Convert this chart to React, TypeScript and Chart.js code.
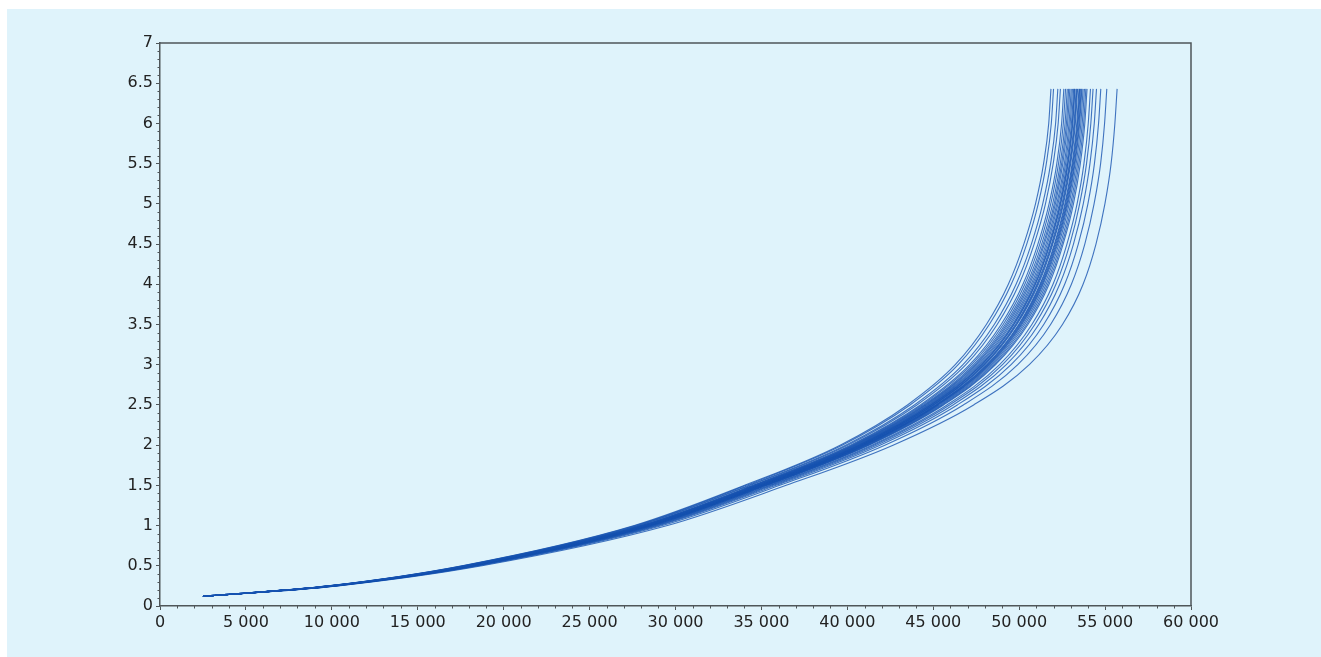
import React, { useEffect, useRef } from "react";
import { Chart, registerables } from "chart.js";

Chart.register(...registerables);

// y levels shared by every curve (value on the vertical axis)
const V_LEVELS = [0.12, 0.25, 0.5, 1, 1.5, 2, 2.5, 3, 3.5, 4, 4.5, 5, 5.5, 6, 6.43];

// x position of each curve at each y level
const curve01 = [2500, 9790, 17580, 27600, 34020, 39580, 43500, 46280, 48090, 49370, 50270, 50950, 51420, 51720, 51850];
const curve02 = [2500, 9810, 17630, 27680, 34110, 39700, 43650, 46450, 48260, 49540, 50440, 51110, 51580, 51870, 52000];
const curve03 = [2500, 9850, 17700, 27800, 34270, 39900, 43900, 46730, 48550, 49820, 50710, 51370, 51830, 52120, 52250];
const curve04 = [2500, 9870, 17750, 27880, 34360, 40020, 44050, 46900, 48720, 49990, 50870, 51530, 51980, 52270, 52400];
const curve05 = [2500, 9900, 17810, 27980, 34490, 40180, 44250, 47120, 48950, 50220, 51090, 51740, 52190, 52470, 52600];
const curve06 = [2500, 9920, 17840, 28030, 34550, 40260, 44350, 47230, 49070, 50330, 51200, 51840, 52290, 52570, 52700];
const curve07 = [2500, 9930, 17870, 28080, 34620, 40340, 44450, 47350, 49180, 50440, 51310, 51950, 52390, 52670, 52800];
const curve08 = [2500, 9940, 17890, 28120, 34670, 40400, 44530, 47440, 49270, 50530, 51400, 52040, 52470, 52750, 52880];
const curve09 = [2500, 9960, 17910, 28150, 34710, 40460, 44600, 47510, 49350, 50610, 51470, 52110, 52540, 52820, 52950];
const curve10 = [2500, 9970, 17930, 28190, 34760, 40520, 44680, 47600, 49440, 50700, 51560, 52190, 52630, 52900, 53030];
const curve11 = [2500, 9980, 17960, 28230, 34810, 40580, 44750, 47680, 49520, 50780, 51640, 52260, 52700, 52970, 53100];
const curve12 = [2500, 9990, 17980, 28260, 34850, 40640, 44820, 47760, 49610, 50860, 51720, 52340, 52770, 53040, 53170];
const curve13 = [2500, 10000, 17990, 28290, 34880, 40680, 44870, 47820, 49670, 50920, 51770, 52390, 52820, 53090, 53220];
const curve14 = [2500, 10000, 18000, 28300, 34900, 40700, 44900, 47850, 49700, 50950, 51800, 52420, 52850, 53120, 53250];
const curve15 = [2500, 10010, 18020, 28340, 34940, 40760, 44970, 47930, 49780, 51030, 51880, 52490, 52920, 53190, 53320];
const curve16 = [2500, 10020, 18030, 28360, 34970, 40790, 45010, 47970, 49830, 51070, 51920, 52540, 52960, 53230, 53360];
const curve17 = [2500, 10020, 18050, 28380, 35000, 40820, 45050, 48020, 49870, 51120, 51960, 52580, 53000, 53270, 53400];
const curve18 = [2500, 10040, 18070, 28420, 35050, 40880, 45130, 48110, 49970, 51210, 52050, 52660, 53080, 53350, 53480];
const curve19 = [2500, 10040, 18080, 28440, 35070, 40920, 45170, 48150, 50010, 51250, 52090, 52700, 53120, 53390, 53520];
const curve20 = [2500, 10050, 18090, 28460, 35100, 40950, 45210, 48200, 50060, 51300, 52140, 52750, 53160, 53430, 53560];
const curve21 = [2500, 10050, 18110, 28480, 35130, 40990, 45260, 48250, 50110, 51350, 52190, 52790, 53210, 53480, 53610];
const curve22 = [2500, 10060, 18120, 28500, 35150, 41020, 45300, 48300, 50160, 51400, 52240, 52840, 53250, 53520, 53650];
const curve23 = [2500, 10070, 18140, 28540, 35200, 41080, 45370, 48380, 50240, 51480, 52310, 52910, 53320, 53590, 53720];
const curve24 = [2500, 10080, 18170, 28580, 35250, 41140, 45450, 48470, 50330, 51570, 52400, 53000, 53400, 53670, 53800];
const curve25 = [2500, 10100, 18190, 28620, 35300, 41200, 45530, 48560, 50430, 51660, 52490, 53080, 53480, 53750, 53880];
const curve26 = [2500, 10110, 18210, 28650, 35340, 41260, 45600, 48630, 50510, 51740, 52560, 53160, 53560, 53820, 53950];
const curve27 = [2500, 10140, 18270, 28750, 35470, 41420, 45800, 48860, 50740, 51970, 52780, 53370, 53770, 54020, 54150];
const curve28 = [2500, 10160, 18320, 28830, 35560, 41540, 45950, 49030, 50910, 52140, 52950, 53520, 53920, 54170, 54300];
const curve29 = [2500, 10190, 18380, 28930, 35690, 41700, 46150, 49250, 51140, 52360, 53160, 53730, 54120, 54370, 54500];
const curve30 = [2500, 10230, 18450, 29050, 35850, 41900, 46400, 49530, 51430, 52650, 53440, 54000, 54380, 54620, 54750];
const curve31 = [2500, 10280, 18560, 29230, 36070, 42180, 46750, 49920, 51830, 53040, 53820, 54360, 54740, 54970, 55100];
const curve32 = [2500, 10370, 18740, 29530, 36440, 42660, 47350, 50590, 52520, 53720, 54470, 54990, 55350, 55570, 55700];

const CURVES = [
  curve01, curve02, curve03, curve04, curve05, curve06, curve07, curve08,
  curve09, curve10, curve11, curve12, curve13, curve14, curve15, curve16,
  curve17, curve18, curve19, curve20, curve21, curve22, curve23, curve24,
  curve25, curve26, curve27, curve28, curve29, curve30, curve31, curve32,
];

// axis ranges and tick spacing
const X_MIN = 0;
const X_MAX = 60000;
const X_STEP = 5000;
const X_MINOR = 1000;
const Y_MIN = 0;
const Y_MAX = 7;
const Y_STEP = 0.5;
const Y_MINOR = 0.1;

const AXIS_COLOR = "#4f5659";
const TEXT_COLOR = "#222";
const LINE_COLOR = "rgba(22, 82, 176, 0.8)";
const FONT = { family: "'DejaVu Sans', sans-serif", size: 16 };

const fmtThousands = (v: number) => {
  const s = String(Math.round(v));
  return s.replace(/\B(?=(\d{3})+(?!\d))/g, " ");
};

const framePlugin = {
  id: "frameAndMinorTicks",
  afterDraw(chart: any) {
    const { ctx, chartArea, scales } = chart;
    const { left, right, top, bottom } = chartArea;
    const xs = scales.x;
    const ys = scales.y;
    ctx.save();
    ctx.strokeStyle = AXIS_COLOR;
    ctx.lineWidth = 1.5;
    ctx.beginPath();
    ctx.moveTo(left, top);
    ctx.lineTo(right, top);
    ctx.lineTo(right, bottom);
    ctx.stroke();
    ctx.lineWidth = 1;
    ctx.beginPath();
    const nx = Math.round((X_MAX - X_MIN) / X_MINOR);
    for (let i = 1; i < nx; i++) {
      const v = X_MIN + i * X_MINOR;
      if (Math.abs(v / X_STEP - Math.round(v / X_STEP)) < 1e-6) continue;
      const px = Math.round(xs.getPixelForValue(v)) + 0.5;
      ctx.moveTo(px, bottom);
      ctx.lineTo(px, bottom + 2.5);
    }
    const ny = Math.round((Y_MAX - Y_MIN) / Y_MINOR);
    for (let i = 1; i < ny; i++) {
      const v = Y_MIN + i * Y_MINOR;
      if (Math.abs(v / Y_STEP - Math.round(v / Y_STEP)) < 1e-6) continue;
      const py = Math.round(ys.getPixelForValue(v)) + 0.5;
      ctx.moveTo(left - 2.5, py);
      ctx.lineTo(left, py);
    }
    ctx.stroke();
    ctx.restore();
  },
};

export default function App() {
  const canvasRef = useRef<HTMLCanvasElement | null>(null);

  useEffect(() => {
    if (!canvasRef.current) return;
    const datasets = CURVES.map((xs, k) => ({
      label: `curve ${k + 1}`,
      data: xs.map((x, i) => ({ x, y: V_LEVELS[i] })),
      borderColor: LINE_COLOR,
      borderWidth: 1.1,
      pointRadius: 0,
      fill: false,
      cubicInterpolationMode: "monotone" as const,
    }));
    const chart = new Chart(canvasRef.current, {
      type: "line",
      data: { datasets },
      plugins: [framePlugin],
      options: {
        animation: false,
        responsive: true,
        maintainAspectRatio: false,
        events: [],
        layout: { padding: { top: 34, right: 130, left: 0, bottom: 0 } },
        plugins: {
          legend: { display: false },
          tooltip: { enabled: false },
        },
        scales: {
          x: {
            type: "linear",
            min: X_MIN,
            max: X_MAX,
            afterFit: (s: any) => {
              s.height = 51;
            },
            ticks: {
              stepSize: X_STEP,
              autoSkip: false,
              maxRotation: 0,
              padding: 3,
              color: TEXT_COLOR,
              font: FONT,
              callback: (v: any) => fmtThousands(Number(v)),
            },
            grid: {
              drawOnChartArea: false,
              drawTicks: true,
              tickLength: 4,
              color: AXIS_COLOR,
            },
            border: { display: true, color: AXIS_COLOR, width: 1.5 },
          },
          y: {
            type: "linear",
            min: Y_MIN,
            max: Y_MAX,
            afterFit: (s: any) => {
              s.width = 153;
            },
            ticks: {
              stepSize: Y_STEP,
              autoSkip: false,
              padding: 3,
              color: TEXT_COLOR,
              font: FONT,
              callback: (v: any) => String(Number(v)),
            },
            grid: {
              drawOnChartArea: false,
              drawTicks: true,
              tickLength: 4,
              color: AXIS_COLOR,
            },
            border: { display: true, color: AXIS_COLOR, width: 1.5 },
          },
        },
      },
    });
    return () => chart.destroy();
  }, []);

  return (
    <div
      style={{
        position: "fixed",
        left: 7,
        top: 9,
        right: 0,
        bottom: 0,
        background: "#dff3fb",
      }}
    >
      <canvas ref={canvasRef} />
    </div>
  );
}
